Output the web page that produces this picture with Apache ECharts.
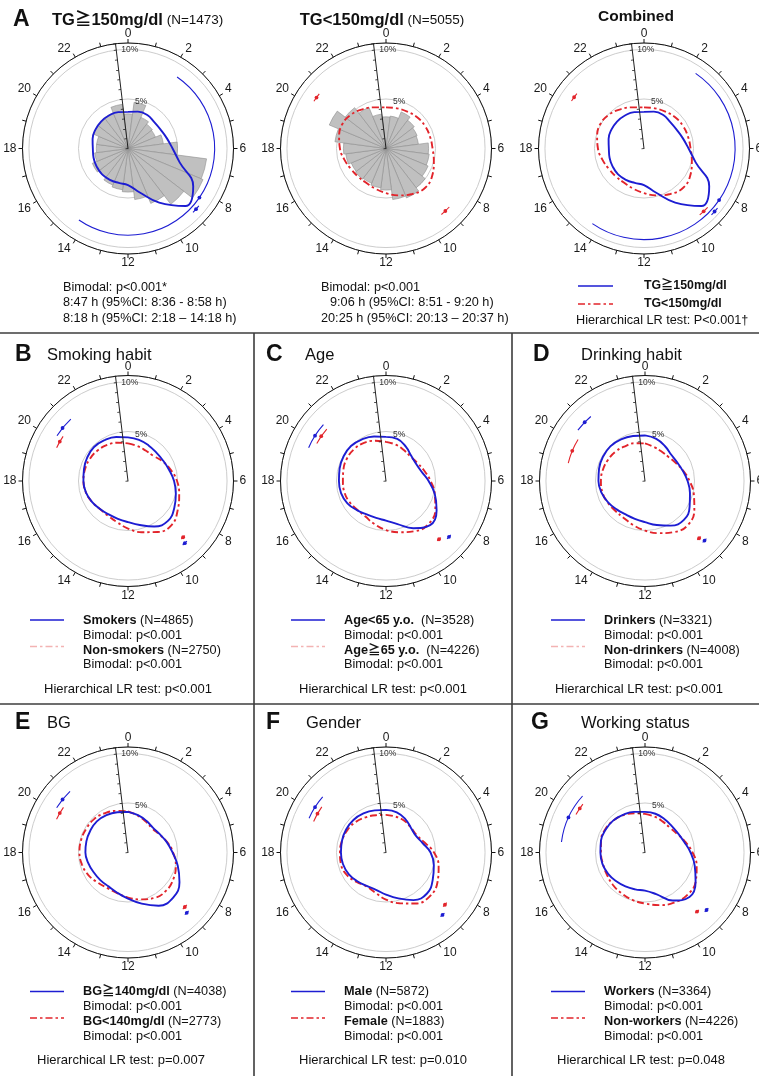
<!DOCTYPE html>
<html>
<head>
<meta charset="utf-8">
<script src="https://cdn.jsdelivr.net/npm/echarts@6/dist/echarts.min.js"></script>
<style>
  html, body { margin: 0; padding: 0; background: #fff; }
  #main { width: 759px; height: 1076px; }
</style>
</head>
<body>
<div id="main"></div>
<script>
// ---- clock positions and axis labels ----
const HOURS = [0, 1, 2, 3, 4, 5, 6, 7, 8, 9, 10, 11, 12, 13, 14, 15, 16, 17, 18, 19, 20, 21, 22, 23];
const ANGLE_LABELS = [0, 2, 4, 6, 8, 10, 12, 14, 16, 18, 20, 22];
const RADIAL_LABELED = [5, 10];

// ---- hourly share of onset (%) ----
const TG_HIGH_HIST = [3.5, 4.7, 3.4, 3.1, 3.0, 3.6, 5.0, 8.0, 8.2, 7.1, 6.0, 5.2, 4.4, 4.2, 4.0, 3.7, 3.9, 3.4, 3.2, 3.2, 3.8, 3.8, 3.9, 4.5];
const TG_LOW_HIST  = [3.2, 3.3, 4.0, 3.6, 3.4, 3.3, 4.3, 4.4, 4.6, 5.0, 5.4, 5.2, 4.2, 4.0, 3.8, 3.9, 3.8, 4.1, 4.3, 5.2, 6.2, 5.2, 4.5, 3.5];

// ---- fitted circular densities (%), one value per hour ----
const TG_HIGH_FIT    = [3.7, 3.85, 3.9, 3.75, 3.8, 4.05, 4.5, 5.4, 7.6, 8.2, 6.3, 4.6, 3.7, 3.6, 3.65, 3.7, 3.65, 3.6, 3.55, 3.7, 3.8, 3.85, 3.85, 3.8];
const TG_LOW_FIT     = [4.15, 4.2, 4.3, 4.45, 4.55, 4.6, 4.7, 5.0, 5.4, 5.6, 5.3, 4.9, 4.5, 4.2, 4.0, 4.0, 4.1, 4.35, 4.65, 4.9, 5.05, 4.9, 4.6, 4.3];
const SMOKERS_FIT    = [4.4, 4.3, 4.15, 4.05, 4.1, 4.3, 4.65, 5.0, 5.4, 5.7, 5.3, 4.6, 4.15, 3.95, 3.9, 4.0, 4.2, 4.4, 4.5, 4.6, 4.75, 4.85, 4.75, 4.6];
const NONSMOKERS_FIT = [3.8, 3.65, 3.55, 3.6, 4.0, 4.45, 4.95, 5.35, 5.8, 6.25, 5.95, 5.35, 4.8, 4.3, 4.05, 4.0, 4.2, 4.4, 4.5, 4.5, 4.45, 4.35, 4.2, 4.0];
const AGE_LT65_FIT   = [4.45, 4.4, 4.0, 3.6, 3.5, 3.7, 4.3, 5.1, 5.9, 6.3, 5.5, 4.5, 4.0, 3.85, 3.9, 4.15, 4.5, 4.7, 4.75, 4.85, 4.95, 5.0, 4.85, 4.65];
const AGE_GE65_FIT   = [3.95, 3.8, 3.6, 3.5, 3.65, 4.0, 4.5, 5.1, 5.75, 6.1, 5.85, 5.35, 4.95, 4.5, 4.15, 4.1, 4.25, 4.35, 4.35, 4.45, 4.55, 4.55, 4.45, 4.2];
const DRINKERS_FIT   = [4.6, 4.4, 4.05, 3.75, 3.75, 3.95, 4.3, 4.7, 5.2, 5.55, 5.2, 4.6, 4.15, 3.95, 3.9, 4.05, 4.3, 4.55, 4.7, 4.8, 4.9, 4.95, 4.85, 4.7];
const NONDRINKERS_FIT= [3.8, 3.55, 3.4, 3.4, 3.6, 4.0, 4.5, 5.1, 5.75, 6.2, 5.95, 5.45, 5.0, 4.6, 4.3, 4.25, 4.35, 4.45, 4.45, 4.4, 4.3, 4.2, 4.05, 3.95];
const BG_HIGH_FIT    = [4.1, 3.9, 3.7, 3.55, 3.7, 4.05, 4.5, 5.2, 6.0, 6.45, 6.2, 5.35, 4.65, 4.2, 3.95, 3.95, 4.0, 4.15, 4.3, 4.35, 4.4, 4.45, 4.35, 4.2];
const BG_LOW_FIT     = [4.15, 3.85, 3.6, 3.45, 3.65, 4.1, 4.55, 5.0, 5.3, 5.45, 5.3, 4.9, 4.55, 4.25, 4.15, 4.3, 4.6, 4.8, 4.9, 4.9, 4.85, 4.8, 4.6, 4.35];
const MALE_FIT       = [4.3, 4.2, 3.9, 3.55, 3.45, 3.8, 4.5, 5.0, 5.45, 5.85, 5.55, 4.8, 4.25, 3.9, 3.9, 4.1, 4.35, 4.5, 4.55, 4.6, 4.65, 4.65, 4.55, 4.4];
const FEMALE_FIT     = [3.8, 3.75, 3.7, 3.55, 3.55, 4.0, 4.85, 5.5, 6.0, 6.25, 5.95, 5.3, 4.75, 4.2, 3.95, 4.2, 4.55, 4.7, 4.65, 4.6, 4.5, 4.35, 4.1, 3.9];
const WORKERS_FIT    = [4.1, 4.05, 3.9, 3.8, 3.85, 4.1, 4.6, 5.2, 5.9, 6.35, 5.6, 4.35, 3.85, 3.85, 3.95, 4.1, 4.3, 4.45, 4.5, 4.6, 4.6, 4.55, 4.4, 4.25];
const NONWORKERS_FIT = [3.9, 3.75, 3.6, 3.55, 3.75, 4.2, 4.8, 5.4, 5.9, 6.05, 5.85, 5.5, 5.15, 4.95, 4.75, 4.6, 4.45, 4.4, 4.45, 4.6, 4.65, 4.55, 4.35, 4.1];

// ---- peak times with 95% CI: [peak, lower, upper] ----
const TG_HIGH_PEAKS = [['8:47', '8:36', '8:58'], ['8:18', '2:18', '14:18']];
const TG_LOW_PEAKS  = [['9:06', '8:51', '9:20'], ['20:25', '20:13', '20:37']];
const SMOKERS_PEAKS     = [[20.6, 20.17, 21.15], [9.17, 9.04, 9.3]];
const NONSMOKERS_PEAKS  = [[20.0, 19.67, 20.3], [9.04, 8.92, 9.16]];
const AGE_LT65_PEAKS    = [[20.17, 19.55, 20.8], [8.77, 8.65, 8.9]];
const AGE_GE65_PEAKS    = [[20.31, 19.9, 20.75], [9.18, 9.06, 9.3]];
const DRINKERS_PEAKS    = [[20.95, 20.48, 21.33], [9.0, 8.88, 9.12]];
const NONDRINKERS_PEAKS = [[19.5, 18.87, 20.12], [9.11, 8.99, 9.23]];
const BG_HIGH_PEAKS     = [[20.6, 20.14, 21.1], [9.05, 8.93, 9.17]];
const BG_LOW_PEAKS      = [[20.0, 19.66, 20.33], [8.92, 8.78, 9.06]];
const MALE_PEAKS        = [[20.17, 19.6, 20.75], [9.19, 9.07, 9.31]];
const FEMALE_PEAKS      = [[19.97, 19.55, 20.36], [8.77, 8.64, 8.9]];
const WORKERS_PEAKS     = [[19.64, 18.48, 20.81], [8.87, 8.75, 8.99]];
const NONWORKERS_PEAKS  = [[20.27, 19.92, 20.53], [9.24, 9.12, 9.36]];

// ---- styling ----
const FONT = '"Liberation Sans", Arial, "Noto Sans CJK JP", sans-serif';
const BLUE = '#1d1dd2';
const RED = '#e2242b';
const PINK = '#f3b3b3';
const DASH_DOT = [7, 3, 2.5, 3];
const R_PX = 105.5;
const R_MAX = 10.65;
const TILT = 96.8;

const toHours = s => typeof s === 'number' ? s : (+s.split(':')[0] + (+s.split(':')[1]) / 60);
const peaksOf = list => list.map(p => p.map(toHours));

// one panel per polar diagram
const PANELS = [
  { center: [128, 148.5], hist: TG_HIGH_HIST, fits: [[TG_HIGH_FIT, 'b']],
    marks: [[peaksOf(TG_HIGH_PEAKS)[0], 'b', 9.2], [peaksOf(TG_HIGH_PEAKS)[1], 'b', 8.75]] },
  { center: [386, 148.5], hist: TG_LOW_HIST, fits: [[TG_LOW_FIT, 'r']],
    marks: [[peaksOf(TG_LOW_PEAKS)[0], 'r', 8.7], [peaksOf(TG_LOW_PEAKS)[1], 'r', 8.7]] },
  { center: [644, 148.5], fits: [[TG_LOW_FIT, 'r'], [TG_HIGH_FIT, 'b']],
    marks: [[peaksOf(TG_HIGH_PEAKS)[0], 'b', 9.55], [peaksOf(TG_HIGH_PEAKS)[1], 'b', 9.2],
            [peaksOf(TG_LOW_PEAKS)[0], 'r', 8.75], [peaksOf(TG_LOW_PEAKS)[1], 'r', 8.75]] },
  { center: [128, 481], fits: [[NONSMOKERS_FIT, 'r'], [SMOKERS_FIT, 'b']], pb: SMOKERS_PEAKS, pr: NONSMOKERS_PEAKS },
  { center: [386, 481], fits: [[AGE_GE65_FIT, 'r'], [AGE_LT65_FIT, 'b']], pb: AGE_LT65_PEAKS, pr: AGE_GE65_PEAKS },
  { center: [645, 481], fits: [[NONDRINKERS_FIT, 'r'], [DRINKERS_FIT, 'b']], pb: DRINKERS_PEAKS, pr: NONDRINKERS_PEAKS },
  { center: [128, 852.5], fits: [[BG_LOW_FIT, 'r'], [BG_HIGH_FIT, 'b']], pb: BG_HIGH_PEAKS, pr: BG_LOW_PEAKS },
  { center: [386, 852.5], fits: [[FEMALE_FIT, 'r'], [MALE_FIT, 'b']], pb: MALE_PEAKS, pr: FEMALE_PEAKS },
  { center: [645, 852.5], fits: [[NONWORKERS_FIT, 'r'], [WORKERS_FIT, 'b']], pb: WORKERS_PEAKS, pr: NONWORKERS_PEAKS }
];
PANELS.forEach(p => {
  if (p.pb) {
    p.marks = p.pb.map(m => [m, 'b', 8.5]).concat(p.pr.map(m => [m, 'r', 7.95]));
  }
});

// angle (canvas radians) of a point around a centre
const angleAt = (c, p) => Math.atan2(p[1] - c[1], p[0] - c[0]);

// histogram wedge centred on each hour
function barItem(params, api) {
  const v = api.value(0), h = api.value(1);
  const c = api.coord([0, 0]);
  const p0 = api.coord([v, (h + 23.5) % 24]);
  const p1 = api.coord([v, h + 0.5]);
  const r = Math.hypot(p0[0] - c[0], p0[1] - c[1]);
  let a0 = angleAt(c, p0), a1 = angleAt(c, p1);
  if (a1 < a0) a1 += Math.PI * 2;
  return {
    type: 'sector',
    shape: { cx: c[0], cy: c[1], r0: 0, r: r, startAngle: a0, endAngle: a1, clockwise: true },
    style: { fill: '#c0c0c0', stroke: '#8e8e8e', lineWidth: 0.6 }
  };
}

// peak time marker: confidence arc plus dot
function markItem(color) {
  return function (params, api) {
    const r = api.value(0), peak = api.value(1), lo = api.value(2), hi = api.value(3);
    const c = api.coord([0, 0]);
    const pLo = api.coord([r, lo]), pHi = api.coord([r, hi]), pPk = api.coord([r, peak]);
    const rad = Math.hypot(pLo[0] - c[0], pLo[1] - c[1]);
    let a0 = angleAt(c, pLo), a1 = angleAt(c, pHi);
    if (a1 < a0) a1 += Math.PI * 2;
    return {
      type: 'group',
      children: [
        { type: 'arc', shape: { cx: c[0], cy: c[1], r: rad, startAngle: a0, endAngle: a1, clockwise: true },
          style: { stroke: color, lineWidth: 1.1, fill: null } },
        { type: 'circle', shape: { cx: pPk[0], cy: pPk[1], r: 1.9 }, style: { fill: color } }
      ]
    };
  };
}

const polar = [], angleAxis = [], radiusAxis = [], series = [];
PANELS.forEach((p, i) => {
  const base = 2 * i, over = 2 * i + 1;
  polar.push({ center: p.center, radius: R_PX }, { center: p.center, radius: R_PX });

  angleAxis.push({
    polarIndex: base, type: 'value', min: 0, max: 24, interval: 1, startAngle: 90, clockwise: true, z: 4,
    axisLine: { show: true, lineStyle: { color: '#111', width: 1 } },
    axisTick: { show: true, length: 4, lineStyle: { color: '#111', width: 1 } },
    axisLabel: { show: true, margin: 3, padding: [0, 3, 0, 3], fontSize: 12, color: '#1a1a1a', fontFamily: FONT,
      formatter: v => ANGLE_LABELS.includes(v) ? String(v) : '' },
    splitLine: { show: false }
  });
  radiusAxis.push({
    polarIndex: base, type: 'value', min: 0, max: R_MAX, interval: 5, z: 1,
    axisLine: { show: false }, axisTick: { show: false }, axisLabel: { show: false },
    splitLine: { show: true, lineStyle: { color: '#c6c6c6', width: 0.9 } }
  });

  // second, slightly rotated polar carries the percentage scale
  angleAxis.push({ polarIndex: over, type: 'value', min: 0, max: 24, startAngle: TILT, show: false });
  radiusAxis.push({
    polarIndex: over, type: 'value', min: 0, max: R_MAX, interval: 1, z: 5,
    axisLine: { show: true, lineStyle: { color: '#222', width: 1 } },
    axisTick: { show: true, length: 2.5, lineStyle: { color: '#222', width: 0.8 } },
    axisLabel: { show: true, fontSize: 8.5, color: '#333', margin: -4, align: 'left', verticalAlign: 'middle',
      fontFamily: FONT,
      formatter: v => RADIAL_LABELED.includes(v) ? (v === 5 ? '{f|' + v + '%}' : '{t|' + v + '%}') : '',
      rich: {
        f: { fontSize: 8.5, color: '#333', fontFamily: FONT, padding: [6, 0, 0, 9] },
        t: { fontSize: 8.5, color: '#333', fontFamily: FONT, padding: [0, 0, 0, 1] }
      } },
    splitLine: { show: false }
  });

  if (p.hist) {
    series.push({
      type: 'custom', coordinateSystem: 'polar', polarIndex: base, z: 2, silent: true,
      renderItem: barItem,
      data: p.hist.map((v, k) => [v, HOURS[k]])
    });
  }
  p.fits.forEach(([vals, kind]) => {
    series.push({
      type: 'line', coordinateSystem: 'polar', polarIndex: base, z: kind === 'b' ? 4 : 3,
      smooth: 0.45, showSymbol: false, symbol: 'none', silent: true,
      lineStyle: kind === 'b'
        ? { color: BLUE, width: 1.9, type: 'solid' }
        : { color: RED, width: 1.9, type: DASH_DOT },
      data: vals.map((v, k) => [v, HOURS[k]]).concat([[vals[0], 24]])
    });
  });
  ['b', 'r'].forEach(kind => {
    const list = p.marks.filter(m => m[1] === kind);
    if (!list.length) return;
    series.push({
      type: 'custom', coordinateSystem: 'polar', polarIndex: base, z: 5, silent: true,
      renderItem: markItem(kind === 'b' ? BLUE : RED),
      data: list.map(([pk, , ring]) => [ring, pk[0], pk[1], pk[2]])
    });
  });
});

// ---- text and frame ----
const graphic = [];
const text = (x, y, str, size, opts = {}) => graphic.push({
  type: 'text', x, y, silent: true,
  style: {
    text: str, fill: '#111', textAlign: opts.align || 'left', textVerticalAlign: 'middle',
    font: `${opts.bold ? 'bold ' : ''}${size}px ${FONT}`
  }
});
const rich = (x, y, str, boldSize, normalSize, align) => graphic.push({
  type: 'text', x, y, silent: true,
  style: {
    text: str, fill: '#111', textAlign: align || 'left', textVerticalAlign: 'middle',
    font: `${normalSize}px ${FONT}`,
    rich: {
      b: { fontWeight: 'bold', fontSize: boldSize, fontFamily: FONT, fill: '#111' },
      n: { fontWeight: 'normal', fontSize: normalSize, fontFamily: FONT, fill: '#111' }
    }
  }
});
const seg = (x1, y1, x2, y2, color, width, dash) => graphic.push({
  type: 'line', silent: true, shape: { x1, y1, x2, y2 },
  style: { stroke: color, lineWidth: width, lineDash: dash || null }
});

// frame lines
seg(0, 333, 759, 333, '#3c3c3c', 1.6);
seg(0, 704, 759, 704, '#3c3c3c', 1.6);
seg(254, 333, 254, 1076, '#3c3c3c', 1.6);
seg(512, 333, 512, 1076, '#3c3c3c', 1.6);

// row A
const ciLine = (p, sep) => `${p[0]} h (95%CI: ${p[1]} ${sep} ${p[2]} h)`;
text(13, 20, 'A', 23, { bold: true });
rich(52, 20, '{b|TG≧150mg/dl} {n|(N=1473)}', 16.5, 13.5);
rich(382, 20, '{b|TG<150mg/dl} {n|(N=5055)}', 16.5, 13.5, 'center');
text(636, 17, 'Combined', 15.5, { bold: true, align: 'center' });

text(63, 287, 'Bimodal: p<0.001*', 12.7);
text(63, 302.5, ciLine(TG_HIGH_PEAKS[0], '-'), 12.7);
text(63, 318.5, ciLine(TG_HIGH_PEAKS[1], '–'), 12.7);
text(321, 287, 'Bimodal: p<0.001', 12.7);
text(330, 302.5, ciLine(TG_LOW_PEAKS[0], '-'), 12.7);
text(321, 318.5, ciLine(TG_LOW_PEAKS[1], '–'), 12.7);

seg(578, 286, 613, 286, BLUE, 1.3);
seg(578, 304, 613, 304, RED, 1.5, DASH_DOT);
text(644, 286, 'TG≧150mg/dl', 12.3, { bold: true });
text(644, 304, 'TG<150mg/dl', 12.3, { bold: true });
text(576, 320.5, 'Hierarchical LR test: P<0.001†', 12.7);

// rows B–G
const LOWER = [
  { letter: 'B', title: 'Smoking habit', lx: 15, tx: 47, ty: 355, x: 0, names: [['Smokers', ' (N=4865)'], ['Non-smokers', ' (N=2750)']], lr: 'p<0.001', lrx: 128, faded: true },
  { letter: 'C', title: 'Age', lx: 266, tx: 305, ty: 355, x: 261, names: [['Age<65 y.o.', '  (N=3528)'], ['Age≧65 y.o.', '  (N=4226)']], lr: 'p<0.001', lrx: 383, faded: true },
  { letter: 'D', title: 'Drinking habit', lx: 533, tx: 581, ty: 355, x: 521, names: [['Drinkers', ' (N=3321)'], ['Non-drinkers', ' (N=4008)']], lr: 'p<0.001', lrx: 639, faded: true },
  { letter: 'E', title: 'BG', lx: 15, tx: 47, ty: 723, x: 0, names: [['BG≧140mg/dl', ' (N=4038)'], ['BG<140mg/dl', ' (N=2773)']], lr: 'p=0.007', lrx: 121, faded: false },
  { letter: 'F', title: 'Gender', lx: 266, tx: 306, ty: 723, x: 261, names: [['Male', ' (N=5872)'], ['Female', ' (N=1883)']], lr: 'p=0.010', lrx: 383, faded: false },
  { letter: 'G', title: 'Working status', lx: 531, tx: 581, ty: 723, x: 521, names: [['Workers', ' (N=3364)'], ['Non-workers', ' (N=4226)']], lr: 'p=0.048', lrx: 641, faded: false }
];
LOWER.forEach(L => {
  text(L.lx, L.ty, L.letter, 23, { bold: true });
  text(L.tx, L.ty, L.title, 16.5);
  const top = L.ty === 355;
  const y = top ? [620, 635, 650, 664.5, 689] : [991.5, 1006, 1021, 1036, 1060.5];
  const lineY2 = top ? 646.5 : 1018;
  seg(L.x + 30, y[0], L.x + 64, y[0], BLUE, 1.4);
  seg(L.x + 30, lineY2, L.x + 64, lineY2, L.faded ? PINK : RED, 1.5, DASH_DOT);
  rich(L.x + 83, y[0], `{b|${L.names[0][0]}}{n|${L.names[0][1]}}`, 12.7, 12.7);
  text(L.x + 83, y[1], 'Bimodal: p<0.001', 12.7);
  rich(L.x + 83, y[2], `{b|${L.names[1][0]}}{n|${L.names[1][1]}}`, 12.7, 12.7);
  text(L.x + 83, y[3], 'Bimodal: p<0.001', 12.7);
  text(L.lrx, y[4], 'Hierarchical LR test: ' + L.lr, 13, { align: 'center' });
});

const chart = echarts.init(document.getElementById('main'), null, { renderer: 'canvas', width: 759, height: 1076 });
chart.setOption({
  animation: false,
  backgroundColor: '#ffffff',
  polar, angleAxis, radiusAxis, series, graphic
});
</script>
</body>
</html>
